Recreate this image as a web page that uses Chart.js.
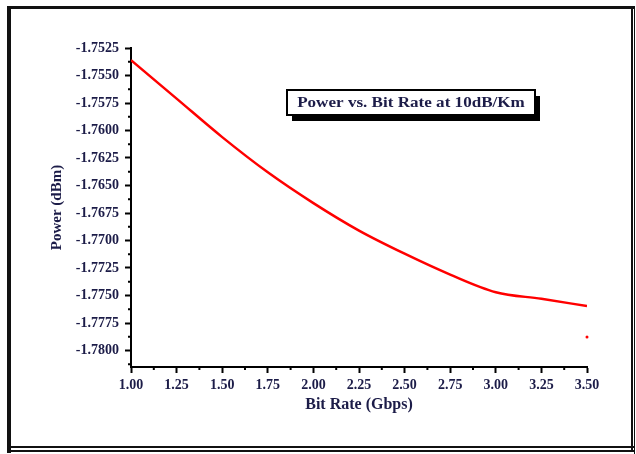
<!DOCTYPE html>
<html>
<head>
<meta charset="utf-8">
<script src="https://cdn.jsdelivr.net/npm/chart.js@4"></script>
<style>
  html, body { margin: 0; padding: 0; background: #fff; }
  #wrap { width: 636px; height: 454px; position: relative; }
</style>
</head>
<body>
<div id="wrap"><canvas id="powerChart" width="636" height="454"></canvas></div>
<script>
// values
const bitRates = [1.00, 1.25, 1.50, 1.75, 2.00, 2.25, 2.50, 2.75, 3.00, 3.25, 3.50]
const powerDbm = [-1.7536, -1.7571, -1.7606, -1.7638, -1.7666, -1.7691, -1.7712, -1.7731, -1.7747, -1.7753, -1.77596]
const strayPoint = [{ x: 3.50, y: -1.77877 }]
const xTicks = [1.00, 1.25, 1.50, 1.75, 2.00, 2.25, 2.50, 2.75, 3.00, 3.25, 3.50]
const yTicks = [-1.7525, -1.7550, -1.7575, -1.7600, -1.7625, -1.7650, -1.7675, -1.7700, -1.7725, -1.7750, -1.7775, -1.7800]
const chartTitle = 'Power vs. Bit Rate at 10dB/Km'

const serif = '"Liberation Serif", "DejaVu Serif", serif'
const ink = '#1c1c48'

const minorTicks = {
  id: 'minorTicks',
  afterDraw(chart) {
    const ctx = chart.ctx
    const { x, y } = chart.scales
    ctx.save()
    ctx.strokeStyle = '#000'
    ctx.lineWidth = 2
    const xs = x.ticks.map(t => t.value)
    const xStep = xs[1] - xs[0]
    for (let v = xs[0] + xStep / 2; v < x.max; v += xStep) {
      const px = x.getPixelForValue(v)
      ctx.beginPath(); ctx.moveTo(px, y.bottom); ctx.lineTo(px, y.bottom + 3); ctx.stroke()
    }
    const ys = y.ticks.map(t => t.value)
    const yStep = ys[0] - ys[1]
    for (let v = ys[0] - yStep / 2; v > y.min; v -= yStep) {
      const py = y.getPixelForValue(v)
      ctx.beginPath(); ctx.moveTo(x.left, py); ctx.lineTo(x.left - 3, py); ctx.stroke()
    }
    ctx.restore()
  }
}

const decorations = {
  id: 'decorations',
  afterDraw(chart) {
    const ctx = chart.ctx
    const area = chart.chartArea
    ctx.save()
    // outer frame
    ctx.fillStyle = '#111'
    ctx.fillRect(7, 6, 4, 447)
    ctx.fillRect(7, 6, 627, 3)
    ctx.fillRect(631, 6, 2, 446)
    ctx.fillRect(634, 6, 1, 448)
    ctx.fillRect(7, 446, 627, 2)
    ctx.fillRect(7, 450, 628, 2)

    // title box with drop shadow
    const bx = area.left + 156, by = area.top + 42, bw = 248, bh = 25
    ctx.fillStyle = '#000'
    ctx.fillRect(bx + 5, by + 6, bw, bh)
    ctx.fillStyle = '#fff'
    ctx.fillRect(bx, by, bw, bh)
    ctx.strokeStyle = '#000'
    ctx.lineWidth = 2
    ctx.strokeRect(bx, by, bw, bh)
    // the source text is stretched sideways
    ctx.fillStyle = ink
    ctx.font = 'bold 14px ' + serif
    ctx.textAlign = 'center'
    ctx.textBaseline = 'middle'
    ctx.translate(bx + bw / 2, by + bh / 2 + 1)
    ctx.scale(1.22, 1)
    ctx.fillText(chartTitle, 0, 0)
    ctx.restore()
  }
}

new Chart(document.getElementById('powerChart'), {
  type: 'line',
  data: {
    datasets: [
      {
        data: bitRates.map((b, i) => ({ x: b, y: powerDbm[i] })),
        borderColor: '#ff0000',
        borderWidth: 2.5,
        pointRadius: 0,
        cubicInterpolationMode: 'monotone',
        fill: false
      },
      {
        data: strayPoint,
        showLine: false,
        clip: false,
        pointRadius: 1.5,
        pointBorderWidth: 0,
        pointBackgroundColor: '#ff0000'
      }
    ]
  },
  options: {
    responsive: false,
    animation: false,
    layout: { padding: { top: 48, left: 48, right: 49, bottom: 0 } },
    plugins: { legend: { display: false }, tooltip: { enabled: false } },
    scales: {
      x: {
        type: 'linear',
        min: 1.0,
        max: 3.5,
        afterFit: s => { s.height = 87 },
        afterBuildTicks: s => { s.ticks = xTicks.map(v => ({ value: v })) },
        border: { color: '#000', width: 2 },
        grid: { drawOnChartArea: false, drawTicks: true, tickLength: 6, tickColor: '#000', tickWidth: 2 },
        ticks: {
          color: ink,
          padding: 4,
          maxRotation: 0,
          font: { family: serif, size: 14, weight: 'bold' },
          callback: v => v.toFixed(2)
        },
        title: {
          display: true,
          text: 'Bit Rate (Gbps)',
          color: ink,
          padding: { top: 0, bottom: 40 },
          font: { family: serif, size: 16, weight: 'bold' }
        }
      },
      y: {
        type: 'linear',
        min: -1.7815,
        max: -1.7525,
        afterFit: s => { s.width = 83 },
        afterBuildTicks: s => { s.ticks = yTicks.map(v => ({ value: v })) },
        border: { color: '#000', width: 2 },
        grid: { drawOnChartArea: false, drawTicks: true, tickLength: 6, tickColor: '#000', tickWidth: 2 },
        ticks: {
          color: ink,
          padding: 6,
          font: { family: serif, size: 14, weight: 'bold' },
          callback: v => v.toFixed(4)
        },
        title: {
          display: true,
          text: 'Power (dBm)',
          color: ink,
          padding: { top: 0, bottom: 0 },
          font: { family: serif, size: 15, weight: 'bold' }
        }
      }
    }
  },
  plugins: [minorTicks, decorations]
})
</script>
</body>
</html>
